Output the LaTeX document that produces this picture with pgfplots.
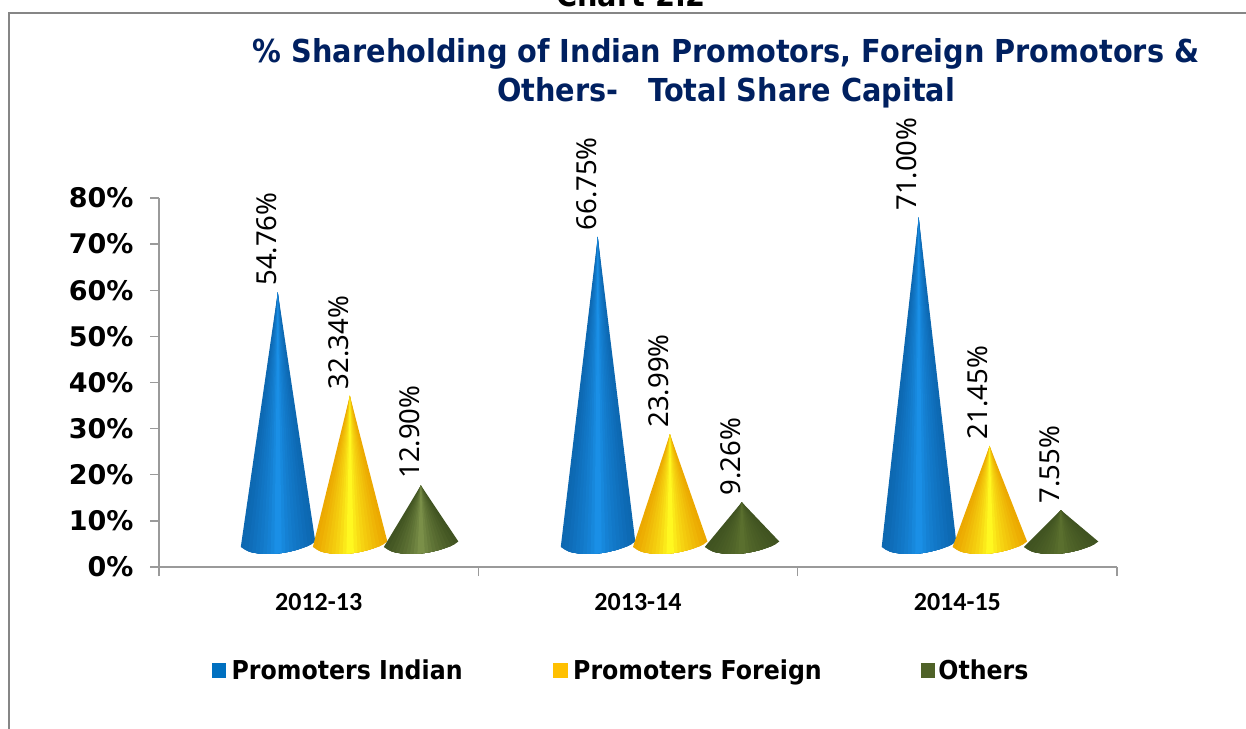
\documentclass[border=0pt]{standalone}
\usepackage{fontspec}
\setmainfont{Noto Sans}
\newfontfamily\calib{Carlito}
\newfontfamily\tahb[FakeStretch=0.91]{DejaVu Sans}
\newfontfamily\verd{DejaVu Sans}
\usepackage{pgfplots}
\usepackage{pgfplotstable}
\pgfplotsset{compat=1.18}
\definecolor{axgray}{HTML}{9A9A9A}
\definecolor{framegray}{HTML}{868686}
\definecolor{navy}{HTML}{002060}
\definecolor{bluemid}{HTML}{1A8FE6}
\definecolor{blueedge}{HTML}{0C66AF}
\definecolor{yelmid}{HTML}{FFF820}
\definecolor{yeledge}{HTML}{EBA600}
\definecolor{grnedge}{HTML}{3F5220}
\definecolor{grnmid}{HTML}{7A8F48}
\definecolor{grnmidb}{HTML}{5A6F2E}
\definecolor{legblue}{RGB}{0,112,192}
\definecolor{legyel}{RGB}{255,192,0}
\definecolor{leggrn}{RGB}{79,98,40}
% cone outline: apex, then the base from left to right (dx, share of apex height, base height)
\pgfplotstableread{
dx ty by
0 1 0
-0.1159 0 4.34
-0.1042 0 3.80
-0.0925 0 3.40
-0.0809 0 3.15
-0.0692 0 3.03
-0.0575 0 2.89
-0.0459 0 2.85
-0.0342 0 2.82
-0.0225 0 2.83
-0.0109 0 2.87
0.0008 0 2.93
0.0125 0 3.04
0.0241 0 3.17
0.0358 0 3.32
0.0475 0 3.52
0.0591 0 3.72
0.0708 0 3.97
0.0825 0 4.25
0.0941 0 4.55
0.1058 0 4.95
0.1174 0 5.53
}\outline
% one nested layer: x, value, edge colour, mid colour, first kept row, first dropped row, mix
\newcommand{\layer}[7]{%
  \addplot[forget plot, draw=none, fill={#4!#7!#3},
    skip coords between index={1}{#5}, skip coords between index={#6}{22}]
    table[x expr=\thisrow{dx}+#1, y expr=\thisrow{ty}*(#2+4.8)+\thisrow{by}] {\outline};
}
\newcommand{\cone}[4]{%
  \layer{#1}{#2}{#3}{#4}{1}{22}{4}
  \layer{#1}{#2}{#3}{#4}{2}{21}{10}
  \layer{#1}{#2}{#3}{#4}{3}{20}{18}
  \layer{#1}{#2}{#3}{#4}{4}{19}{27}
  \layer{#1}{#2}{#3}{#4}{5}{18}{36}
  \layer{#1}{#2}{#3}{#4}{6}{17}{45}
  \layer{#1}{#2}{#3}{#4}{7}{16}{55}
  \layer{#1}{#2}{#3}{#4}{8}{15}{67}
  \layer{#1}{#2}{#3}{#4}{9}{14}{82}
  \layer{#1}{#2}{#3}{#4}{10}{13}{100}
  \node[rotate=90, anchor=west, font=\fontsize{27.5}{30}\selectfont, inner sep=0pt] at (axis cs:#1-0.036,#2+6.2) {#2\%};
}
\begin{document}
\begin{tikzpicture}[x=1pt,y=1pt]
\path[use as bounding box] (0,0) rectangle (1246,728);
\clip (0,0) rectangle (1246,728);
\node[font=\tahb\fontsize{31.6}{33}\selectfont\bfseries, anchor=base, inner sep=0pt] at (631,721) {Chart 2.2};
\draw[framegray, line width=2.2pt] (9,-2) -- (9,715) -- (1248,715);
\begin{axis}[
  at={(159pt,161pt)}, anchor=south west,
  scale only axis, width=958pt, height=369pt,
  xmin=-0.5, xmax=2.5, ymin=0, ymax=80,
  axis x line=bottom, axis y line=left,
  axis line style={axgray, line width=1.6pt, -},
  clip=false,
  xtick={-0.5,0.5,1.5,2.5}, xticklabels={},
  extra x ticks={0,1,2},
  extra x tick labels={2012-13,2013-14,2014-15},
  extra x tick style={major tick length=0pt, xticklabel style={font=\calib\fontsize{26}{28}\selectfont\bfseries, yshift=-23pt}},
  ytick={0,10,20,30,40,50,60,70,80},
  yticklabels={0\%,10\%,20\%,30\%,40\%,50\%,60\%,70\%,80\%},
  yticklabel style={font=\verd\fontsize{27}{32}\selectfont\bfseries, xshift=-13pt},
  tick style={axgray, line width=1.4pt},
  major tick length=9pt,
  tick align=outside,
  title={\% Shareholding of Indian Promotors, Foreign Promotors \&\\Others-\ \ \ Total Share Capital},
  title style={at={(axis cs:1.276,98.1)}, anchor=south, align=center, text=navy, inner sep=0pt,
    font=\tahb\fontsize{31.6}{39}\selectfont\bfseries},
  legend columns=3,
  legend style={draw=none, fill=none, at={(53pt,-103pt)}, anchor=west, inner sep=0pt, outer sep=0pt,
    font=\tahb\fontsize{26}{30}\selectfont\bfseries,
    /tikz/column 1/.style={column sep=4pt},
    /tikz/column 2/.style={column sep=89pt},
    /tikz/column 3/.style={column sep=4pt},
    /tikz/column 4/.style={column sep=97pt},
    /tikz/column 5/.style={column sep=2pt}},
  legend cell align=left,
]
\cone{-0.128}{54.76}{blueedge}{bluemid}
\cone{0.0977}{32.34}{yeledge}{yelmid}
\cone{0.320}{12.90}{grnedge}{grnmid}
\cone{0.874}{66.75}{blueedge}{bluemid}
\cone{1.100}{23.99}{yeledge}{yelmid}
\cone{1.325}{9.26}{grnedge}{grnmidb}
\cone{1.879}{71.00}{blueedge}{bluemid}
\cone{2.101}{21.45}{yeledge}{yelmid}
\cone{2.324}{7.55}{grnedge}{grnmidb}
\addlegendimage{only marks, mark=square*, mark size=6.8pt, color=legblue}
\addlegendentry{Promoters Indian}
\addlegendimage{only marks, mark=square*, mark size=6.8pt, color=legyel}
\addlegendentry{Promoters Foreign}
\addlegendimage{only marks, mark=square*, mark size=6.8pt, color=leggrn}
\addlegendentry{Others}
\end{axis}
\end{tikzpicture}
\end{document}
